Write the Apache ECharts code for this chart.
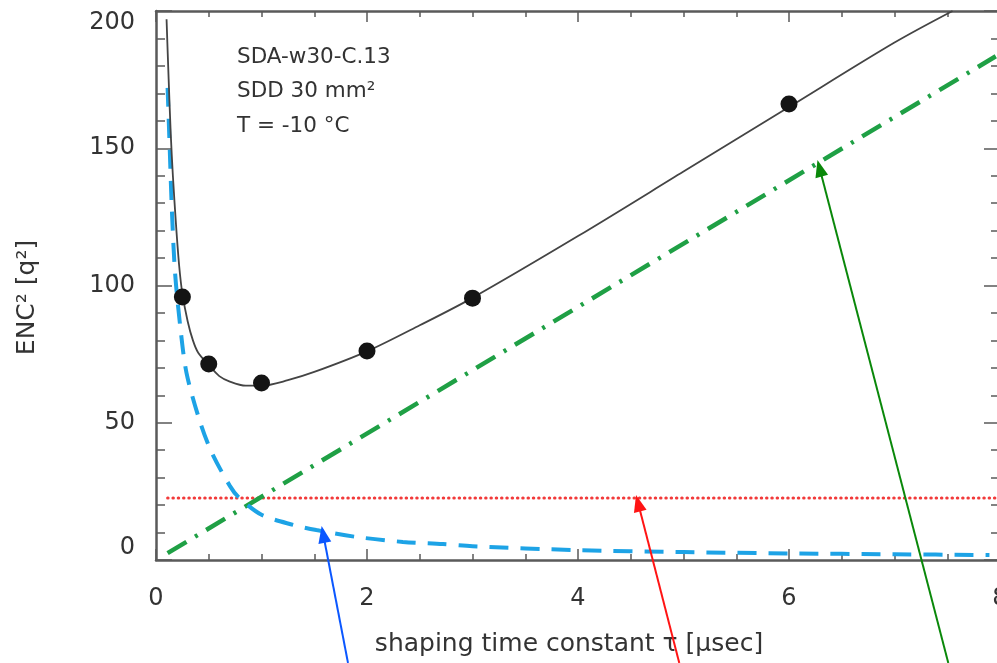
<!DOCTYPE html>
<html>
<head>
<meta charset="utf-8">
<script src="https://cdn.jsdelivr.net/npm/echarts@6/dist/echarts.min.js"></script>
<style>
html,body{margin:0;padding:0;background:#fff;}
#chart{width:997px;height:663px;}
</style>
</head>
<body>
<div id="chart"></div>
<script>
// ---- data ----
const xTicks = [0, 2, 4, 6, 8];
const yTicks = [0, 50, 100, 150, 200];

// measured points (black dots)
const measTau = [0.25, 0.5, 1, 2, 3, 6];
const measEnc = [95.8, 71.4, 64.5, 76.1, 95.4, 166.1];

// total fit (black solid curve)
const fitTau = [0.10, 0.12, 0.14, 0.16, 0.19, 0.22, 0.25, 0.30, 0.35, 0.40, 0.50, 0.60, 0.70, 0.85, 1.00, 1.25, 1.50, 2.00, 2.50, 3.00, 4.00, 5.00, 6.00, 7.00, 7.55];
const fitEnc = [197, 175, 155, 140, 122, 107, 97, 87, 80, 75.5, 71, 67, 65, 63.5, 63.5, 65.5, 68.5, 76, 85.5, 95.5, 118, 141.5, 165, 188.5, 200];

// series (voltage) noise component (blue dashed)
const serTau = [0.11, 0.13, 0.15, 0.18, 0.23, 0.29, 0.42, 0.53, 0.70, 0.78, 1.00, 1.30, 1.52, 1.90, 2.34, 2.72, 3.00, 4.00, 5.00, 6.00, 7.00, 7.90];
const serEnc = [172, 150, 128, 105, 85, 68, 50, 39, 27, 23, 16.5, 12.8, 10.9, 8.4, 6.6, 5.8, 5.0, 3.6, 2.9, 2.4, 2.1, 1.8];

// 1/f noise component (red dotted)
const oneFTau = [0.11, 7.96];
const oneFEnc = [22.6, 22.6];

// parallel (current) noise component (green dash-dot)
const parTau = [0.11, 7.96];
const parEnc = [2.5, 183.5];

// annotation arrows: [tailTau, tailEnc, tipTau, tipEnc]
const arrowBlue = [1.82, -37.5, 1.57, 12.4];
const arrowRed = [4.96, -37.5, 4.55, 23.7];
const arrowGreen = [7.51, -37.5, 6.27, 145.7];

const infoLines = ['SDA-w30-C.13', 'SDD 30 mm²', 'T = -10 °C'];
const xName = 'shaping time constant τ [μsec]';
const yName = 'ENC² [q²]';

const zip = (a, b) => a.map((v, i) => [v, b[i]]);

const FONT = '"DejaVu Sans", sans-serif';
const AX = '#5a5a5a';
const TXT = '#333';

const chart = echarts.init(document.getElementById('chart'), null, {renderer: 'canvas'});

const baseX = {
  type: 'value', min: 0, max: 8, interval: 2,
  axisLine: {show: true, onZero: false, lineStyle: {color: AX, width: 2.5}},
  axisTick: {show: true, inside: true, length: 11, lineStyle: {color: AX, width: 1.5}},
  minorTick: {show: true, splitNumber: 4, length: 6, lineStyle: {color: AX, width: 1.5}},
  splitLine: {show: false}
};
const baseY = {
  type: 'value', min: 0, max: 200, interval: 50,
  axisLine: {show: true, onZero: false, lineStyle: {color: AX, width: 2.5}},
  axisTick: {show: true, inside: true, length: 16, lineStyle: {color: AX, width: 1.5}},
  minorTick: {show: true, splitNumber: 5, length: 9, lineStyle: {color: AX, width: 1.5}},
  splitLine: {show: false}
};

const option = {
  backgroundColor: '#fff',
  animation: false,
  grid: {left: 156, top: 11, width: 844, height: 549, outerBoundsMode: 'none', containLabel: false},
  xAxis: [
    Object.assign({}, baseX, {
      position: 'bottom',
      axisLabel: {show: true, margin: 27, fontSize: 24, color: TXT, fontFamily: FONT,
        formatter: v => (xTicks.includes(v) ? String(v) : '')},
      name: xName, nameLocation: 'middle', nameGap: 72,
      nameTextStyle: {fontSize: 25, color: TXT, fontFamily: FONT, padding: [0, 18, 0, 0]}
    }),
    Object.assign({}, baseX, {position: 'top', axisLabel: {show: false}})
  ],
  yAxis: [
    Object.assign({}, baseY, {
      position: 'left',
      axisLabel: {show: true, margin: 21, fontSize: 24, color: TXT, fontFamily: FONT,
        verticalAlignMinLabel: 'bottom', verticalAlignMaxLabel: 'top',
        formatter: v => (yTicks.includes(v) ? String(v) : '')},
      name: yName, nameLocation: 'middle', nameGap: 116, nameRotate: 90,
      nameTextStyle: {fontSize: 25, color: TXT, fontFamily: FONT, padding: [0, 24, 0, 0]}
    }),
    Object.assign({}, baseY, {position: 'right', axisLabel: {show: false}})
  ],
  series: [
    {
      name: '1/f', type: 'line', data: zip(oneFTau, oneFEnc), showSymbol: false, symbol: 'none',
      lineStyle: {color: '#f23a3a', width: 3, type: [0.5, 4.8], cap: 'round'}, z: 2
    },
    {
      name: 'parallel', type: 'line', data: zip(parTau, parEnc), showSymbol: false, symbol: 'none',
      lineStyle: {color: '#1fa045', width: 4.5, type: [22, 10, 3, 10]}, z: 3
    },
    {
      name: 'series', type: 'line', data: zip(serTau, serEnc), showSymbol: false, symbol: 'none',
      smooth: 0.3,
      lineStyle: {color: '#1da3e6', width: 4, type: [19, 12]}, z: 4
    },
    {
      name: 'fit', type: 'line', data: zip(fitTau, fitEnc), showSymbol: false, symbol: 'none',
      smooth: 0.3,
      lineStyle: {color: '#444', width: 1.8}, z: 5
    },
    {
      name: 'measured', type: 'scatter', data: zip(measTau, measEnc), symbol: 'circle', symbolSize: 17,
      itemStyle: {color: '#141414', opacity: 1}, z: 6
    }
  ]
};
chart.setOption(option);

function arrowGraphic(a, color) {
  const p0 = chart.convertToPixel({xAxisIndex: 0, yAxisIndex: 0}, [a[0], a[1]]);
  const p1 = chart.convertToPixel({xAxisIndex: 0, yAxisIndex: 0}, [a[2], a[3]]);
  const dx = p1[0] - p0[0], dy = p1[1] - p0[1];
  const len = Math.hypot(dx, dy);
  const ux = dx / len, uy = dy / len;
  const L = 17, W = 13;
  const bx = p1[0] - ux * L, by = p1[1] - uy * L;
  const nx = -uy, ny = ux;
  return [
    {type: 'line', z: 100, shape: {x1: p0[0], y1: p0[1], x2: bx + ux * 2, y2: by + uy * 2},
      style: {stroke: color, lineWidth: 2}},
    {type: 'polygon', z: 100, shape: {points: [[p1[0], p1[1]], [bx + nx * W / 2, by + ny * W / 2], [bx - nx * W / 2, by - ny * W / 2]]},
      style: {fill: color}}
  ];
}

const graphics = [].concat(
  arrowGraphic(arrowBlue, '#0b57ff'),
  arrowGraphic(arrowRed, '#ff1414'),
  arrowGraphic(arrowGreen, '#0a880a')
);
infoLines.forEach((t, i) => {
  graphics.push({type: 'text', left: 237, top: 46 + i * 34.5, z: 100,
    style: {text: t, fontSize: 21.5, fill: TXT, fontFamily: FONT}});
});
chart.setOption({graphic: graphics});
</script>
</body>
</html>
